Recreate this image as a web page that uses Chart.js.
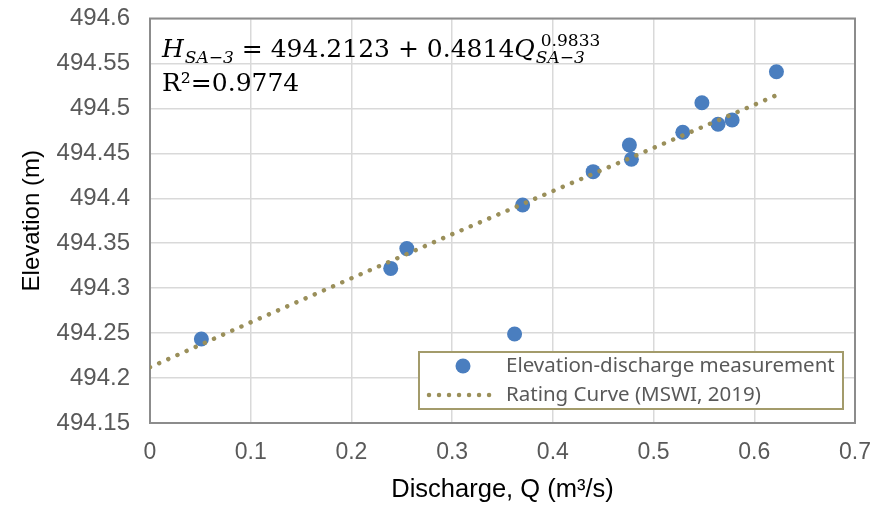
<!DOCTYPE html>
<html>
<head>
<meta charset="utf-8">
<script src="https://cdn.jsdelivr.net/npm/chart.js@4/dist/chart.umd.min.js"></script>
<style>
html,body{margin:0;padding:0;background:#fff;}
#wrap{width:873px;height:506px;position:relative;}
</style>
</head>
<body>
<div id="wrap"><canvas id="c" width="873" height="506"></canvas></div>
<script>
// ---- data ----
const dischargeQ = [0.051, 0.239, 0.255, 0.362, 0.370, 0.440, 0.476, 0.478, 0.529, 0.548, 0.564, 0.578, 0.622];
const elevationH = [494.2435, 494.322, 494.344, 494.249, 494.3925, 494.4296, 494.4593, 494.4434, 494.4734, 494.5063, 494.4823, 494.4871, 494.5408];
const curveQ = [0, 0.1, 0.2, 0.3, 0.4, 0.5, 0.6, 0.629];
const curveH = [494.212, 494.262, 494.311, 494.360, 494.408, 494.456, 494.504, 494.518];
const seriesNames = ['Elevation-discharge measurement', 'Rating Curve (MSWI, 2019)'];
const xTickValues = [0, 0.1, 0.2, 0.3, 0.4, 0.5, 0.6, 0.7];
const xTickLabels = ['0', '0.1', '0.2', '0.3', '0.4', '0.5', '0.6', '0.7'];
const yTickValues = [494.15, 494.2, 494.25, 494.3, 494.35, 494.4, 494.45, 494.5, 494.55, 494.6];
const yTickLabels = ['494.15', '494.2', '494.25', '494.3', '494.35', '494.4', '494.45', '494.5', '494.55', '494.6'];
const xTitle = 'Discharge, Q (m³/s)';
const yTitle = 'Elevation (m)';
const r2Text = 'R²=0.9774';

const pointColor = '#4A7EBF';
const curveColor = '#9A8F5A';
const fam = "'Liberation Sans', Arial, sans-serif";

const plotBorder = {
  id: 'plotBorder',
  beforeDatasetsDraw(chart) {
    const {ctx, chartArea: a} = chart;
    ctx.save();
    ctx.strokeStyle = '#8C8C8C';
    ctx.lineWidth = 2;
    ctx.strokeRect(a.left, a.top, a.right - a.left, a.bottom - a.top);
    ctx.restore();
  }
};

const equation = {
  id: 'equation',
  afterDraw(chart) {
    const ctx = chart.ctx;
    const sf = "'DejaVu Serif', 'Liberation Serif', serif";
    const big = 25, small = 17;
    ctx.save();
    ctx.fillStyle = '#000';
    ctx.textBaseline = 'alphabetic';
    ctx.textAlign = 'left';
    let x = chart.chartArea.left + 12;
    const y = 57;
    ctx.font = 'italic ' + big + 'px ' + sf;
    ctx.fillText('H', x, y);
    x += ctx.measureText('H').width + 1;
    ctx.font = 'italic ' + small + 'px ' + sf;
    ctx.fillText('SA−3', x, y + 6);
    x += ctx.measureText('SA−3').width + 8;
    ctx.font = big + 'px ' + sf;
    const mid = '= 494.2123 + 0.4814';
    ctx.fillText(mid, x, y);
    x += ctx.measureText(mid).width;
    ctx.font = 'italic ' + big + 'px ' + sf;
    ctx.fillText('Q', x, y);
    x += ctx.measureText('Q').width + 1;
    ctx.font = small + 'px ' + sf;
    ctx.fillText('0.9833', x + 5, y - 11);
    ctx.font = 'italic ' + small + 'px ' + sf;
    ctx.fillText('SA−3', x, y + 6);
    ctx.font = big + 'px ' + sf;
    ctx.fillText(r2Text, chart.chartArea.left + 12, 91);
    ctx.restore();
  }
};

const boxLegend = {
  id: 'boxLegend',
  afterDraw(chart) {
    const ctx = chart.ctx;
    const bx = 419, by = 352, bw = 424, bh = 57;
    ctx.save();
    ctx.fillStyle = '#fff';
    ctx.fillRect(bx, by, bw, bh);
    ctx.strokeStyle = '#A39B6B';
    ctx.lineWidth = 2;
    ctx.strokeRect(bx, by, bw, bh);
    const ds = chart.data.datasets;
    ctx.fillStyle = ds[0].backgroundColor;
    ctx.beginPath();
    ctx.arc(463, 366, 7.5, 0, Math.PI * 2);
    ctx.fill();
    ctx.strokeStyle = ds[1].borderColor;
    ctx.lineWidth = ds[1].borderWidth;
    ctx.lineCap = 'round';
    ctx.setLineDash(ds[1].borderDash);
    ctx.beginPath();
    ctx.moveTo(429, 395);
    ctx.lineTo(499, 395);
    ctx.stroke();
    ctx.setLineDash([]);
    ctx.fillStyle = '#595959';
    ctx.font = "20.5px 'Noto Sans', 'Open Sans', sans-serif";
    ctx.textBaseline = 'middle';
    ctx.fillText(ds[0].label, 506, 366);
    ctx.fillText(ds[1].label, 506, 395);
    ctx.restore();
  }
};

new Chart(document.getElementById('c'), {
  type: 'scatter',
  data: {
    datasets: [
      {
        label: seriesNames[0],
        data: dischargeQ.map((q, i) => ({x: q, y: elevationH[i]})),
        backgroundColor: pointColor,
        borderColor: pointColor,
        borderWidth: 0,
        pointRadius: 7.5,
        pointHoverRadius: 7.5,
        order: 2
      },
      {
        type: 'line',
        label: seriesNames[1],
        data: curveQ.map((q, i) => ({x: q, y: curveH[i]})),
        borderColor: curveColor,
        backgroundColor: curveColor,
        borderWidth: 4.5,
        borderDash: [0.01, 10],
        borderCapStyle: 'round',
        pointRadius: 0,
        fill: false,
        tension: 0,
        order: 1
      }
    ]
  },
  options: {
    responsive: false,
    animation: false,
    events: [],
    layout: {padding: {top: 18.5, right: 18, left: 0, bottom: 0}},
    plugins: {legend: {display: false}, tooltip: {enabled: false}},
    scales: {
      x: {
        type: 'linear',
        min: 0, max: 0.7,
        afterBuildTicks: s => { s.ticks = xTickValues.map(v => ({value: v})); },
        afterFit: s => { s.height = 83; s.paddingLeft = 0; s.paddingRight = 0; },
        ticks: {
          callback: (v, i) => xTickLabels[i],
          color: '#595959', font: {family: fam, size: 23}, padding: 16, maxRotation: 0, autoSkip: false
        },
        grid: {color: '#D9D9D9', lineWidth: 1.5, drawTicks: false},
        border: {display: true, color: '#8C8C8C', width: 2},
        title: {display: true, text: xTitle, color: '#000', font: {family: fam, size: 25.5}, padding: {top: 0, bottom: 1}}
      },
      y: {
        type: 'linear',
        min: 494.15, max: 494.6,
        afterBuildTicks: s => { s.ticks = yTickValues.map(v => ({value: v})); },
        afterFit: s => { s.width = 150; s.paddingTop = 0; s.paddingBottom = 0; },
        ticks: {
          callback: (v, i) => yTickLabels[i],
          color: '#595959', font: {family: fam, size: 24}, padding: 20, autoSkip: false
        },
        grid: {color: '#D9D9D9', lineWidth: 1.5, drawTicks: false},
        border: {display: true, color: '#8C8C8C', width: 2},
        title: {display: true, text: yTitle, color: '#000', font: {family: fam, size: 24}, padding: {top: 18, bottom: 0}}
      }
    }
  },
  plugins: [plotBorder, equation, boxLegend]
});
</script>
</body>
</html>
